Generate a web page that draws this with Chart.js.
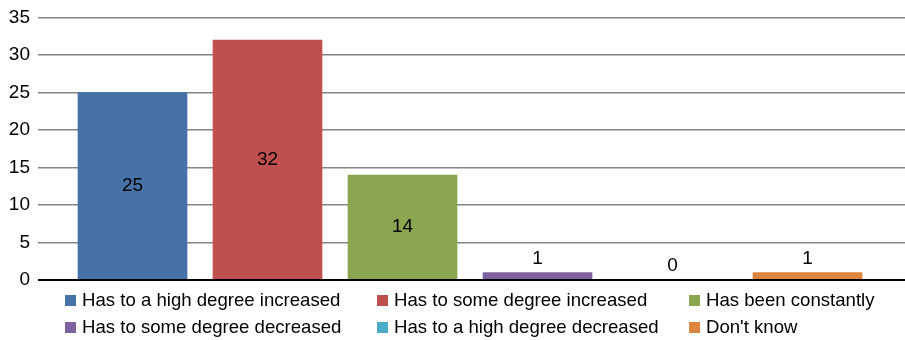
<!DOCTYPE html>
<html lang="en-US">
<head>
  <meta charset="utf-8">
  <title>Bar chart</title>
  <script src="https://cdn.jsdelivr.net/npm/chart.js@4/dist/chart.umd.min.js"></script>
  <style>
    html, body { margin: 0; padding: 0; background: #fff; }
    .wrapper { width: 905px; height: 340px; }
  </style>
</head>
<body>
  <div class="wrapper">
    <canvas id="chart-0" width="905" height="340"></canvas>
  </div>

  <script>

    let categories = [
      'Has to a high degree increased',
      'Has to some degree increased',
      'Has been constantly',
      'Has to some degree decreased',
      'Has to a high degree decreased',
      "Don't know"
    ];
    let counts = [25, 32, 14, 1, 0, 1];
    let yTicks = [0, 5, 10, 15, 20, 25, 30, 35];

    let colors = ['#4672a8', '#c0504e', '#8aa64e', '#7f63a1', '#4aacc6', '#dd843e'];
    let fontFamily = '"Liberation Sans", Arial, Helvetica, sans-serif';

    // black zero line on top of the bars, then the value labels:
    // centred inside tall bars, above short ones
    let valueLabels = {
      id: 'valueLabels',
      afterDatasetsDraw(chart) {
        let ctx = chart.ctx;
        let area = chart.chartArea;
        let y0 = chart.scales.y.getPixelForValue(0);
        ctx.save();
        ctx.fillStyle = '#000';
        ctx.fillRect(area.left, y0 - 1, area.right - area.left, 2);

        let meta = chart.getDatasetMeta(0);
        ctx.font = '19px ' + fontFamily;
        ctx.textAlign = 'center';
        ctx.textBaseline = 'middle';
        meta.data.forEach(function(bar, i) {
          let h = bar.base - bar.y;
          let y = h > 40 ? (bar.y + bar.base) / 2 : bar.y - 14;
          ctx.fillText(String(counts[i]), bar.x, y);
        });
        ctx.restore();
      }
    };

    // legend laid out as a 3-column table under the plot
    let tableLegend = {
      id: 'tableLegend',
      afterDraw(chart) {
        let ctx = chart.ctx;
        let colX = [65, 377, 689];
        let rowY = [301, 328];
        ctx.save();
        ctx.font = '18.6px ' + fontFamily;
        ctx.textBaseline = 'middle';
        ctx.textAlign = 'left';
        categories.forEach(function(label, i) {
          let x = colX[i % 3];
          let y = rowY[Math.floor(i / 3)];
          ctx.fillStyle = colors[i];
          ctx.fillRect(x, y - 6, 11, 11);
          ctx.fillStyle = '#000';
          ctx.fillText(label, x + 17, y);
        });
        ctx.restore();
      }
    };

    let chart = new Chart('chart-0', {
      type: 'bar',
      data: {
        datasets: [{
          data: counts.map((v, i) => ({x: i, y: v})),
          backgroundColor: colors,
          barThickness: 109,
          borderWidth: 0
        }]
      },
      options: {
        responsive: false,
        animation: false,
        layout: {
          padding: {top: 16, right: 0, bottom: 60, left: 0}
        },
        plugins: {
          legend: {display: false},
          tooltip: {enabled: false}
        },
        scales: {
          x: {
            type: 'linear',
            min: -0.7,
            max: 5.722,
            display: false,
            offset: false
          },
          y: {
            min: 0,
            max: 35,
            afterBuildTicks(axis) {
              axis.ticks = yTicks.map(v => ({value: v}));
            },
            afterFit(axis) {
              axis.width = 38;
            },
            border: {display: false},
            grid: {
              drawTicks: false,
              color: ctx => ctx.tick.value === 0 ? 'rgba(0,0,0,0)' : '#858585',
              lineWidth: 1.4
            },
            ticks: {
              padding: 8,
              color: '#000',
              font: {family: fontFamily, size: 19, lineHeight: 1}
            }
          }
        }
      },
      plugins: [valueLabels, tableLegend]
    });

  </script>
</body>
</html>
